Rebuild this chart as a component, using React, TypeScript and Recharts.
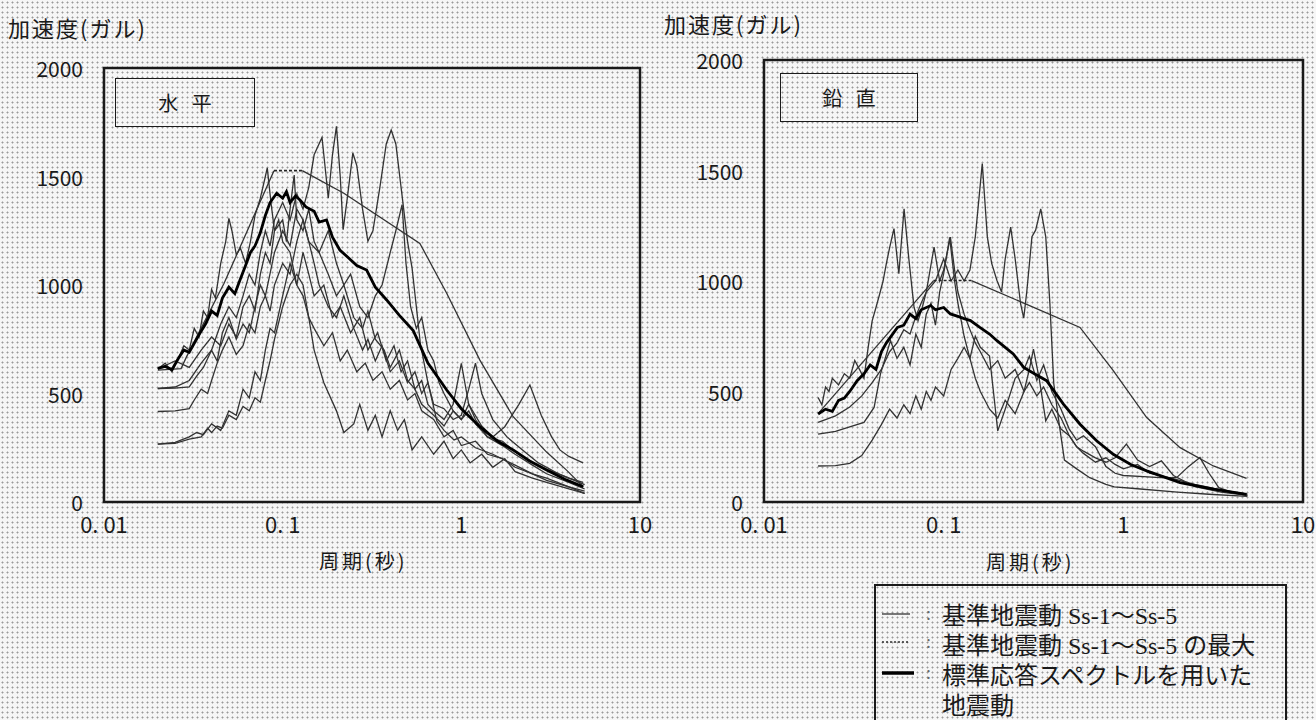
import { LineChart, Line, XAxis, YAxis, ReferenceArea } from 'recharts'

// 周期(秒), 加速度(ガル)
type Pair = [number, number]

const xTicks = [0.01, 0.1, 1, 10]
const xTickLabels: Record<string, string> = { '0.01': '0. 01', '0.1': '0. 1', '1': '1', '10': '10' }
const yTicks = [0, 500, 1000, 1500, 2000]

// ---- 水平 ----
const hSs1Rise: Pair[] = [[0.02, 608], [0.027, 615], [0.029, 670], [0.047, 1008], [0.0894, 1527]]
const hSs1Fall: Pair[] = [[0.1287, 1527], [0.22, 1423], [0.586, 1192], [0.828, 962], [1.27, 654], [1.95, 393], [3.0, 230], [3.88, 147], [4.81, 70]]
const hMax: Pair[] = [[0.0894, 1527], [0.1287, 1527]]

const hStd: Pair[] = [
  [0.02, 616], [0.022, 625], [0.024, 610], [0.026, 660], [0.028, 700], [0.03, 690], [0.0344, 777], [0.037, 820], [0.04, 880],
  [0.043, 860], [0.046, 940], [0.05, 990], [0.054, 960], [0.0577, 1023], [0.062, 1090], [0.066, 1150], [0.07, 1180],
  [0.0748, 1238], [0.08, 1320], [0.085, 1380], [0.0926, 1423], [0.1, 1400], [0.105, 1430], [0.11, 1380], [0.118, 1410],
  [0.125, 1392], [0.135, 1360], [0.15, 1340], [0.16, 1290], [0.176, 1300], [0.19, 1220], [0.209, 1161], [0.23, 1130],
  [0.26, 1090], [0.295, 1069], [0.33, 990], [0.382, 931], [0.45, 860], [0.538, 790], [0.65, 640], [0.828, 516],
  [1.0, 430], [1.27, 347], [1.6, 280], [1.95, 240], [2.4, 190], [3.0, 147], [3.8, 105], [4.81, 70],
]

const h2: Pair[] = [
  [0.02, 613], [0.022, 640], [0.024, 600], [0.026, 660], [0.028, 720], [0.03, 700], [0.032, 800], [0.034, 760], [0.036, 880],
  [0.038, 850], [0.04, 980], [0.042, 940], [0.045, 1100], [0.048, 1200], [0.05, 1307], [0.052, 1250], [0.055, 1140],
  [0.058, 1170], [0.062, 1100], [0.066, 1200], [0.07, 1320], [0.075, 1400], [0.08, 1500], [0.082, 1540], [0.086, 1380],
  [0.09, 1250], [0.095, 1300], [0.1, 1200], [0.11, 1150], [0.12, 1000], [0.13, 950], [0.14, 850], [0.15, 800], [0.17, 720],
  [0.19, 780], [0.21, 650], [0.23, 700], [0.26, 600], [0.29, 640], [0.32, 560], [0.36, 600], [0.4, 520], [0.45, 560],
  [0.5, 470], [0.55, 500], [0.6, 420], [0.7, 380], [0.8, 300], [0.9, 330], [1.0, 260], [1.2, 280], [1.4, 220], [1.7, 200],
  [2.0, 160], [2.5, 130], [3.0, 100], [4.0, 70], [4.9, 40],
]

const h3: Pair[] = [
  [0.02, 523], [0.025, 530], [0.03, 560], [0.035, 640], [0.04, 700], [0.045, 820], [0.05, 900], [0.055, 850], [0.06, 950],
  [0.065, 1050], [0.07, 1000], [0.075, 1150], [0.08, 1250], [0.085, 1180], [0.09, 1300], [0.1, 1380], [0.11, 1300],
  [0.12, 1420], [0.13, 1350], [0.14, 1450], [0.15, 1600], [0.166, 1680], [0.175, 1500], [0.18, 1400], [0.19, 1600],
  [0.2, 1731], [0.21, 1500], [0.218, 1255], [0.23, 1400], [0.247, 1608], [0.26, 1550], [0.28, 1350], [0.3, 1202],
  [0.32, 1250], [0.35, 1450], [0.38, 1650], [0.405, 1714], [0.43, 1650], [0.46, 1450], [0.5, 1200], [0.53, 1078],
  [0.56, 900], [0.59, 728], [0.65, 550], [0.73, 373], [0.8, 330], [0.91, 286], [1.0, 300], [1.2, 250], [1.5, 220],
  [2.0, 170], [2.5, 130], [3.0, 110], [4.0, 70], [4.9, 50],
]

const h4: Pair[] = [
  [0.02, 613], [0.025, 650], [0.03, 620], [0.035, 700], [0.04, 760], [0.045, 720], [0.05, 820], [0.055, 760], [0.06, 900],
  [0.065, 950], [0.07, 880], [0.075, 1050], [0.08, 1150], [0.085, 1100], [0.09, 1250], [0.1, 1300], [0.105, 1200],
  [0.11, 1350], [0.116, 1507], [0.12, 1300], [0.13, 1250], [0.14, 1350], [0.15, 1200], [0.16, 1150], [0.18, 1250],
  [0.2, 1100], [0.22, 1000], [0.24, 1050], [0.27, 900], [0.3, 850], [0.33, 950], [0.36, 1000], [0.4, 1150], [0.43, 1250],
  [0.466, 1370], [0.49, 1100], [0.52, 900], [0.56, 800], [0.6, 850], [0.65, 700], [0.7, 650], [0.75, 550], [0.8, 500],
  [0.9, 420], [1.0, 380], [1.1, 420], [1.2, 360], [1.4, 300], [1.7, 260], [2.0, 220], [2.5, 170], [3.0, 130], [4.0, 90],
  [4.9, 60],
]

const h5: Pair[] = [
  [0.02, 417], [0.025, 420], [0.03, 430], [0.032, 470], [0.035, 520], [0.038, 500], [0.04, 560], [0.043, 640], [0.046, 700],
  [0.05, 760], [0.055, 680], [0.06, 720], [0.065, 820], [0.07, 780], [0.075, 900], [0.08, 950], [0.085, 880], [0.09, 1000],
  [0.1, 1100], [0.11, 1050], [0.12, 1200], [0.13, 1300], [0.14, 1200], [0.15, 1100], [0.16, 1000], [0.18, 900], [0.2, 850],
  [0.22, 950], [0.25, 800], [0.28, 700], [0.3, 750], [0.33, 650], [0.36, 720], [0.4, 600], [0.45, 650], [0.5, 550],
  [0.55, 600], [0.6, 500], [0.65, 550], [0.7, 450], [0.8, 430], [0.9, 380], [1.0, 400], [1.1, 520], [1.2, 640], [1.3, 500],
  [1.5, 380], [1.8, 300], [2.2, 240], [2.7, 180], [3.5, 130], [4.9, 80],
]

const h6: Pair[] = [
  [0.02, 267], [0.025, 270], [0.03, 290], [0.035, 300], [0.038, 340], [0.04, 320], [0.043, 350], [0.046, 340], [0.05, 400],
  [0.055, 380], [0.06, 440], [0.065, 420], [0.07, 480], [0.075, 460], [0.08, 560], [0.085, 650], [0.09, 750], [0.1, 900],
  [0.11, 1000], [0.12, 1050], [0.13, 1000], [0.14, 850], [0.15, 700], [0.17, 550], [0.2, 420], [0.22, 320], [0.25, 360],
  [0.27, 450], [0.3, 330], [0.33, 400], [0.36, 300], [0.4, 420], [0.44, 330], [0.48, 380], [0.53, 240], [0.6, 300],
  [0.7, 220], [0.8, 280], [0.9, 200], [1.0, 240], [1.12, 180], [1.3, 220], [1.5, 160], [1.75, 200], [2.0, 140], [2.5, 110],
  [3.0, 90], [4.0, 60], [4.9, 40],
]

const h7: Pair[] = [
  [0.02, 267], [0.025, 275], [0.03, 300], [0.033, 320], [0.036, 310], [0.04, 360], [0.045, 330], [0.05, 420], [0.055, 400],
  [0.06, 520], [0.065, 480], [0.07, 600], [0.075, 560], [0.08, 700], [0.085, 800], [0.09, 780], [0.1, 950], [0.11, 1100],
  [0.12, 1000], [0.13, 1150], [0.14, 1050], [0.15, 950], [0.17, 1000], [0.19, 850], [0.21, 900], [0.24, 780], [0.27, 850],
  [0.3, 700], [0.34, 780], [0.38, 650], [0.42, 720], [0.46, 600], [0.5, 650], [0.55, 520], [0.6, 560], [0.65, 450],
  [0.7, 420], [0.8, 380], [0.9, 450], [1.0, 639], [1.1, 450], [1.3, 350], [1.5, 300], [1.75, 347], [2.1, 450], [2.42, 539],
  [2.8, 400], [3.2, 300], [3.56, 240], [4.0, 210], [4.8, 180],
]

const h8: Pair[] = [
  [0.02, 523], [0.025, 525], [0.03, 530], [0.033, 580], [0.036, 620], [0.04, 700], [0.043, 650], [0.046, 780], [0.05, 850],
  [0.055, 750], [0.06, 820], [0.065, 780], [0.07, 900], [0.075, 1000], [0.08, 950], [0.09, 1150], [0.1, 1250], [0.11, 1180],
  [0.12, 1350], [0.13, 1300], [0.14, 1200], [0.16, 1150], [0.18, 1050], [0.2, 950], [0.22, 1000], [0.25, 850], [0.28, 800],
  [0.3, 880], [0.33, 750], [0.37, 700], [0.4, 620], [0.45, 700], [0.5, 560], [0.55, 520], [0.6, 450], [0.7, 400],
  [0.8, 350], [0.9, 420], [1.0, 380], [1.1, 450], [1.2, 380], [1.4, 300], [1.7, 280], [2.0, 230], [2.5, 180], [3.0, 150],
  [3.5, 130], [4.0, 110], [4.8, 90],
]

// ---- 鉛直 ----
const vSs1Rise: Pair[] = [[0.02, 400], [0.0879, 1002]]
const vSs1Fall: Pair[] = [[0.1427, 1002], [0.574, 790], [0.879, 594], [1.349, 382], [2.07, 246], [3.17, 163], [4.85, 107]]
const vMax: Pair[] = [[0.0879, 1002], [0.1427, 1002]]

const vStd: Pair[] = [
  [0.02, 398], [0.022, 420], [0.024, 410], [0.026, 460], [0.028, 470], [0.03, 500], [0.033, 549], [0.036, 580], [0.039, 620],
  [0.042, 600], [0.045, 680], [0.048, 720], [0.0553, 790], [0.06, 800], [0.065, 850], [0.07, 830], [0.075, 870],
  [0.0847, 889], [0.09, 870], [0.1, 880], [0.109, 851], [0.12, 840], [0.13, 830], [0.141, 821], [0.159, 790],
  [0.18, 760], [0.198, 730], [0.22, 700], [0.244, 670], [0.279, 609], [0.32, 580], [0.374, 549], [0.464, 443],
  [0.574, 352], [0.71, 277], [0.879, 216], [1.1, 170], [1.349, 141], [2.07, 88], [3.17, 58], [4.85, 35],
]

const v2: Pair[] = [
  [0.02, 473], [0.021, 440], [0.022, 520], [0.023, 500], [0.024, 560], [0.026, 530], [0.028, 580], [0.03, 560], [0.032, 640],
  [0.034, 600], [0.036, 560], [0.038, 700], [0.04, 820], [0.042, 880], [0.044, 940], [0.046, 1000], [0.048, 1080],
  [0.05, 1150], [0.0529, 1237], [0.0563, 1033], [0.0602, 1327], [0.064, 1100], [0.0684, 881], [0.072, 820], [0.076, 880],
  [0.08, 950], [0.0884, 1153], [0.095, 1000], [0.1, 1050], [0.109, 1199], [0.115, 1050], [0.12, 950], [0.13, 850],
  [0.14, 780], [0.15, 720], [0.16, 680], [0.18, 600], [0.2, 640], [0.22, 560], [0.25, 600], [0.28, 500], [0.3, 540],
  [0.33, 480], [0.36, 520], [0.4, 440], [0.45, 380], [0.5, 300], [0.55, 250], [0.6, 220], [0.7, 180], [0.8, 200],
  [0.9, 170], [1.0, 150], [1.2, 170], [1.4, 130], [1.8, 110], [2.5, 80], [3.5, 55], [4.9, 35],
]

const v3: Pair[] = [
  [0.02, 360], [0.025, 390], [0.03, 430], [0.035, 480], [0.04, 540], [0.045, 600], [0.05, 680], [0.055, 720], [0.06, 780],
  [0.065, 760], [0.07, 840], [0.075, 900], [0.08, 950], [0.09, 1000], [0.1, 1100], [0.105, 1050], [0.11, 1000],
  [0.12, 1050], [0.13, 1000], [0.14, 1050], [0.15, 1200], [0.164, 1531], [0.175, 1200], [0.185, 1080], [0.198, 1002],
  [0.21, 950], [0.22, 1100], [0.236, 1244], [0.25, 1100], [0.268, 897], [0.279, 832], [0.29, 950], [0.31, 1200],
  [0.325, 1230], [0.347, 1326], [0.37, 1200], [0.39, 900], [0.41, 536], [0.44, 350], [0.47, 190], [0.55, 150], [0.65, 110],
  [0.8, 80], [0.89, 68], [1.2, 60], [2.0, 45], [3.0, 35], [4.9, 25],
]

const v4: Pair[] = [
  [0.02, 307], [0.025, 320], [0.03, 340], [0.036, 360], [0.041, 428], [0.0445, 580], [0.0506, 730], [0.055, 650],
  [0.06, 700], [0.065, 620], [0.07, 760], [0.075, 700], [0.08, 850], [0.085, 900], [0.09, 800], [0.095, 950], [0.1, 1033],
  [0.108, 1197], [0.115, 1000], [0.12, 900], [0.13, 750], [0.14, 650], [0.15, 560], [0.16, 500], [0.18, 420], [0.2, 380],
  [0.22, 460], [0.25, 400], [0.28, 500], [0.3, 600], [0.316, 692], [0.34, 560], [0.37, 367], [0.4, 420], [0.45, 330],
  [0.5, 300], [0.55, 250], [0.6, 230], [0.7, 200], [0.8, 180], [0.9, 200], [1.04, 262], [1.2, 190], [1.4, 160],
  [1.63, 186], [1.9, 120], [2.5, 70], [3.5, 45], [4.9, 30],
]

const v5: Pair[] = [
  [0.02, 163], [0.025, 165], [0.03, 175], [0.035, 210], [0.04, 280], [0.045, 350], [0.05, 420], [0.055, 380], [0.06, 440],
  [0.065, 400], [0.07, 480], [0.075, 420], [0.08, 500], [0.085, 460], [0.09, 520], [0.1, 480], [0.11, 600], [0.12, 650],
  [0.13, 700], [0.14, 650], [0.15, 750], [0.16, 700], [0.18, 660], [0.2, 322], [0.22, 420], [0.25, 560], [0.28, 600],
  [0.3, 660], [0.33, 550], [0.36, 620], [0.4, 500], [0.45, 420], [0.5, 330], [0.55, 280], [0.6, 300], [0.7, 250],
  [0.8, 160], [0.9, 130], [1.0, 120], [1.3, 115], [1.6, 110], [1.98, 110], [2.3, 160], [2.67, 201], [3.0, 130],
  [3.4, 65], [4.0, 45], [4.9, 30],
]

const hThin = [h2, h3, h4, h5, h6, h7, h8]
const vThin = [v2, v3, v4, v5]

const pts = (arr: Pair[]) => arr.map(([t, a]) => ({ t, a }))

const INK = '#1a1a1a'
const FONT = '"Noto Sans CJK JP", "Noto Sans", sans-serif'
const SERIF = '"Liberation Serif", "Noto Sans CJK JP", serif'

interface PanelProps {
  left: number
  width: number
  plotTop: number
  plotWidth: number
  thin: Pair[][]
  ss1: Pair[][]
  max: Pair[]
  std: Pair[]
}

function Panel({ left, width, plotTop, plotWidth, thin, ss1, max, std }: PanelProps) {
  const plotBottom = 502
  return (
    <div style={{ position: 'absolute', left, top: 0 }}>
      <LineChart width={width} height={580} margin={{ top: plotTop, right: width - 104 - plotWidth, bottom: 580 - plotBottom - 40, left: 54 }}>
        <XAxis
          type="number"
          dataKey="t"
          scale="log"
          domain={[0.01, 10]}
          ticks={xTicks}
          tickFormatter={(v: number) => xTickLabels[String(v)] ?? String(v)}
          axisLine={false}
          tickLine={false}
          tickMargin={9}
          allowDataOverflow
          height={40}
          tick={{ fill: INK, fontSize: 22, fontFamily: FONT }}
        />
        <YAxis
          type="number"
          dataKey="a"
          domain={[0, 2000]}
          ticks={yTicks}
          axisLine={false}
          tickLine={false}
          tickMargin={15}
          width={50}
          tick={{ fill: INK, fontSize: 21, fontFamily: FONT, dy: 2 }}
        />
        <ReferenceArea x1={0.01} x2={10} y1={0} y2={2000} fill="none" stroke={INK} strokeWidth={2.5} ifOverflow="visible" />
        {thin.map((s, i) => (
          <Line key={`thin-${i}`} data={pts(s)} dataKey="a" type="linear" stroke="#333" strokeWidth={1.3} dot={false} isAnimationActive={false} />
        ))}
        <Line data={pts(max)} dataKey="a" type="linear" stroke="#222" strokeWidth={1.6} strokeDasharray="3 2" dot={false} isAnimationActive={false} />
        {ss1.map((s, i) => (
          <Line key={`ss1-${i}`} data={pts(s)} dataKey="a" type="linear" stroke="#333" strokeWidth={1.3} dot={false} isAnimationActive={false} />
        ))}
        <Line data={pts(std)} dataKey="a" type="linear" stroke="#000" strokeWidth={2.8} dot={false} isAnimationActive={false} />
      </LineChart>
    </div>
  )
}

const textStyle = { position: 'absolute' as const, color: INK, fontFamily: FONT, whiteSpace: 'nowrap' as const, lineHeight: 1 }

export default function App() {
  return (
    <div
      style={{
        position: 'absolute',
        left: 0,
        top: 0,
        width: 1316,
        height: 720,
        overflow: 'hidden',
        backgroundColor: '#f6f6f6',
        backgroundImage: 'radial-gradient(circle, #9a9a9a 0.8px, transparent 1.2px)',
        backgroundSize: '5px 5px',
      }}
    >
      <Panel left={0} width={660} plotTop={68} plotWidth={536} thin={hThin} ss1={[hSs1Rise, hSs1Fall]} max={hMax} std={hStd} />
      <Panel left={660} width={656} plotTop={60} plotWidth={539} thin={vThin} ss1={[vSs1Rise, vSs1Fall]} max={vMax} std={vStd} />

      {/* axis titles */}
      <div style={{ ...textStyle, left: 8, top: 16, fontSize: 22, letterSpacing: 2 }}>加速度(ガル)</div>
      <div style={{ ...textStyle, left: 664, top: 12, fontSize: 22, letterSpacing: 2 }}>加速度(ガル)</div>
      <div style={{ ...textStyle, left: 319, top: 551, fontSize: 20, letterSpacing: 3 }}>周期(秒)</div>
      <div style={{ ...textStyle, left: 986, top: 552, fontSize: 20, letterSpacing: 3 }}>周期(秒)</div>

      {/* panel labels */}
      <div style={{ ...textStyle, left: 115, top: 78, width: 138, height: 47, border: `1.5px solid ${INK}`, fontSize: 20, lineHeight: '47px', textAlign: 'center' }}>
        水&nbsp;&nbsp;&nbsp;平
      </div>
      <div style={{ ...textStyle, left: 780, top: 73, width: 136, height: 47, border: `1.5px solid ${INK}`, fontSize: 20, lineHeight: '47px', textAlign: 'center' }}>
        鉛&nbsp;&nbsp;&nbsp;直
      </div>

      {/* legend */}
      <div style={{ position: 'absolute', left: 874, top: 584, width: 409, height: 150, border: `2px solid ${INK}` }}>
        <svg width={60} height={100} style={{ position: 'absolute', left: 0, top: 0 }}>
          <line x1={6} y1={28} x2={34} y2={28} stroke="#333" strokeWidth={1.3} />
          <line x1={6} y1={56} x2={34} y2={56} stroke="#333" strokeWidth={1.6} strokeDasharray="2 2" />
          <line x1={6} y1={87} x2={38} y2={87} stroke="#000" strokeWidth={3.5} />
          <text x={50} y={34} fontSize={18} fill="#666">:</text>
          <text x={50} y={62} fontSize={18} fill="#666">:</text>
          <text x={50} y={93} fontSize={18} fill="#666">:</text>
        </svg>
        <div style={{ ...textStyle, fontFamily: SERIF, left: 66, top: 15, fontSize: 24, lineHeight: '30px' }}>
          基準地震動 Ss-1～Ss-5
          <br />基準地震動 Ss-1～Ss-5 の最大
          <br />標準応答スペクトルを用いた
          <br />地震動
        </div>
      </div>
    </div>
  )
}
